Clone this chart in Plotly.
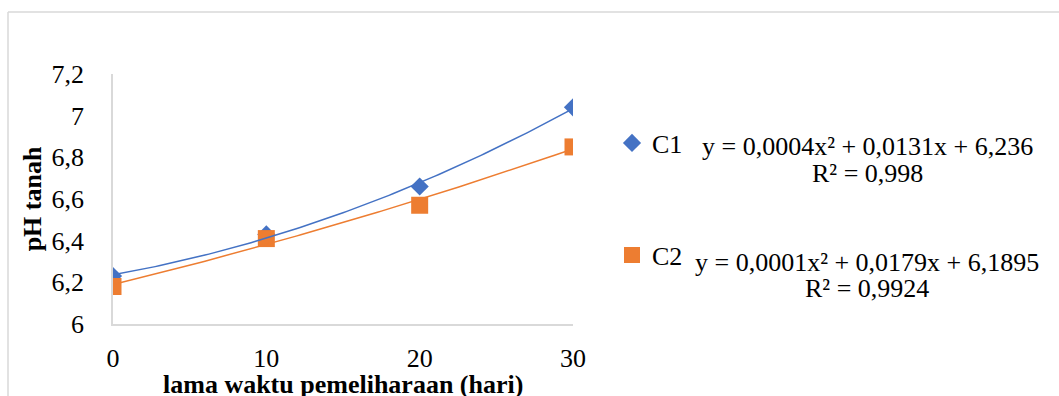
import numpy as np
import plotly.graph_objects as go

# Lama pemeliharaan (hari) dan pH tanah untuk tiap perlakuan
hari = [0, 10, 20, 30]
ph_c1 = [6.23, 6.43, 6.66, 7.04]
ph_c2 = [6.18, 6.41, 6.57, 6.85]

series_names = ["C1", "C2"]
series_colors = ["#4472C4", "#ED7D31"]
series_symbols = ["diamond", "square"]
series_sizes = [14, 17]

# Teks persamaan trendline polinomial orde 2
eq_text = [
    ("y = 0,0004x² + 0,0131x + 6,236", "R² = 0,998"),
    ("y = 0,0001x² + 0,0179x + 6,1895", "R² = 0,9924"),
]

y_ticks = [6, 6.2, 6.4, 6.6, 6.8, 7, 7.2]
y_tick_text = ["6", "6,2", "6,4", "6,6", "6,8", "7", "7,2"]
x_ticks = [0, 10, 20, 30]
x_title = "lama waktu pemeliharaan (hari)"
y_title = "pH tanah"

FONT = "Liberation Serif, Times New Roman, serif"
W, H = 1059, 396
L, R, T, B = 113, W - 573, 74, H - 324
PW, PH = W - L - R, H - T - B


def px_x(p):
    return (p - L) / PW


def px_y(p):
    return (H - B - p) / PH


fig = go.Figure()

x_fit = np.linspace(0, 30, 121)
for i, ys in enumerate([ph_c1, ph_c2]):
    fig.add_trace(go.Scatter(
        x=hari, y=ys, mode="markers", name=series_names[i],
        marker=dict(symbol=series_symbols[i], size=series_sizes[i],
                    color=series_colors[i], line=dict(width=0)),
        legend="legend" if i == 0 else "legend2",
        showlegend=True, hoverinfo="x+y",
    ))

for i, ys in enumerate([ph_c1, ph_c2]):
    coef = np.polyfit(hari, ys, 2)
    fig.add_trace(go.Scatter(
        x=x_fit, y=np.polyval(coef, x_fit), mode="lines",
        line=dict(color=series_colors[i], width=1.5),
        showlegend=False, hoverinfo="skip",
    ))

# Persamaan dan R² di samping legenda
eq_rows = [(146, 173), (262, 288)]
for (l1, l2), (y1, y2) in zip(eq_text, eq_rows):
    for txt, yy in ((l1, y1), (l2, y2)):
        fig.add_annotation(
            x=px_x(867), y=px_y(yy), xref="paper", yref="paper",
            text=txt, showarrow=False, xanchor="center", yanchor="middle",
            font=dict(family=FONT, size=26, color="#000000"),
        )

# Judul sumbu X, sebagian terpotong di tepi bawah
fig.add_annotation(
    x=0.5, y=px_y(368), xref="paper", yref="paper",
    text=f"<b>{x_title}</b>", showarrow=False,
    xanchor="center", yanchor="top",
    font=dict(family=FONT, size=26, color="#000000"),
)

# Bingkai area grafik
border = dict(color="#D9D9D9", width=1.5)
fig.add_shape(type="line", xref="paper", yref="paper",
              x0=px_x(8), x1=px_x(8), y0=px_y(12), y1=px_y(420), line=border)
fig.add_shape(type="line", xref="paper", yref="paper",
              x0=px_x(8), x1=px_x(1080), y0=px_y(12), y1=px_y(12), line=border)

legend_common = dict(
    xref="paper", yref="paper", xanchor="left", yanchor="middle",
    font=dict(family=FONT, size=26, color="#000000"),
    bgcolor="rgba(0,0,0,0)", borderwidth=0, itemsizing="trace",
)

fig.update_layout(
    width=W, height=H,
    margin=dict(l=L, r=R, t=T, b=B, pad=0, autoexpand=False),
    paper_bgcolor="white", plot_bgcolor="white",
    font=dict(family=FONT, size=26, color="#000000"),
    showlegend=True,
    legend=dict(x=px_x(612), y=px_y(143), **legend_common),
    legend2=dict(x=px_x(612), y=px_y(255), **legend_common),
    xaxis=dict(
        range=[0, 30], tickvals=x_ticks, ticktext=[str(v) for v in x_ticks],
        showgrid=False, zeroline=False, showline=True, linecolor="#D9D9D9",
        linewidth=1.5, ticks="", ticklabelstandoff=10, automargin=False,
        tickfont=dict(family=FONT, size=26, color="#000000"),
    ),
    yaxis=dict(
        range=[6, 7.2], tickvals=y_ticks, ticktext=y_tick_text,
        showgrid=False, zeroline=False, showline=True, linecolor="#D9D9D9",
        linewidth=1.5, ticks="", ticklabelstandoff=22, automargin=False,
        tickfont=dict(family=FONT, size=26, color="#000000"),
        title=dict(text=f"<b>{y_title}</b>", standoff=2,
                   font=dict(family=FONT, size=26, color="#000000")),
    ),
)

fig.write_html("out.html")
